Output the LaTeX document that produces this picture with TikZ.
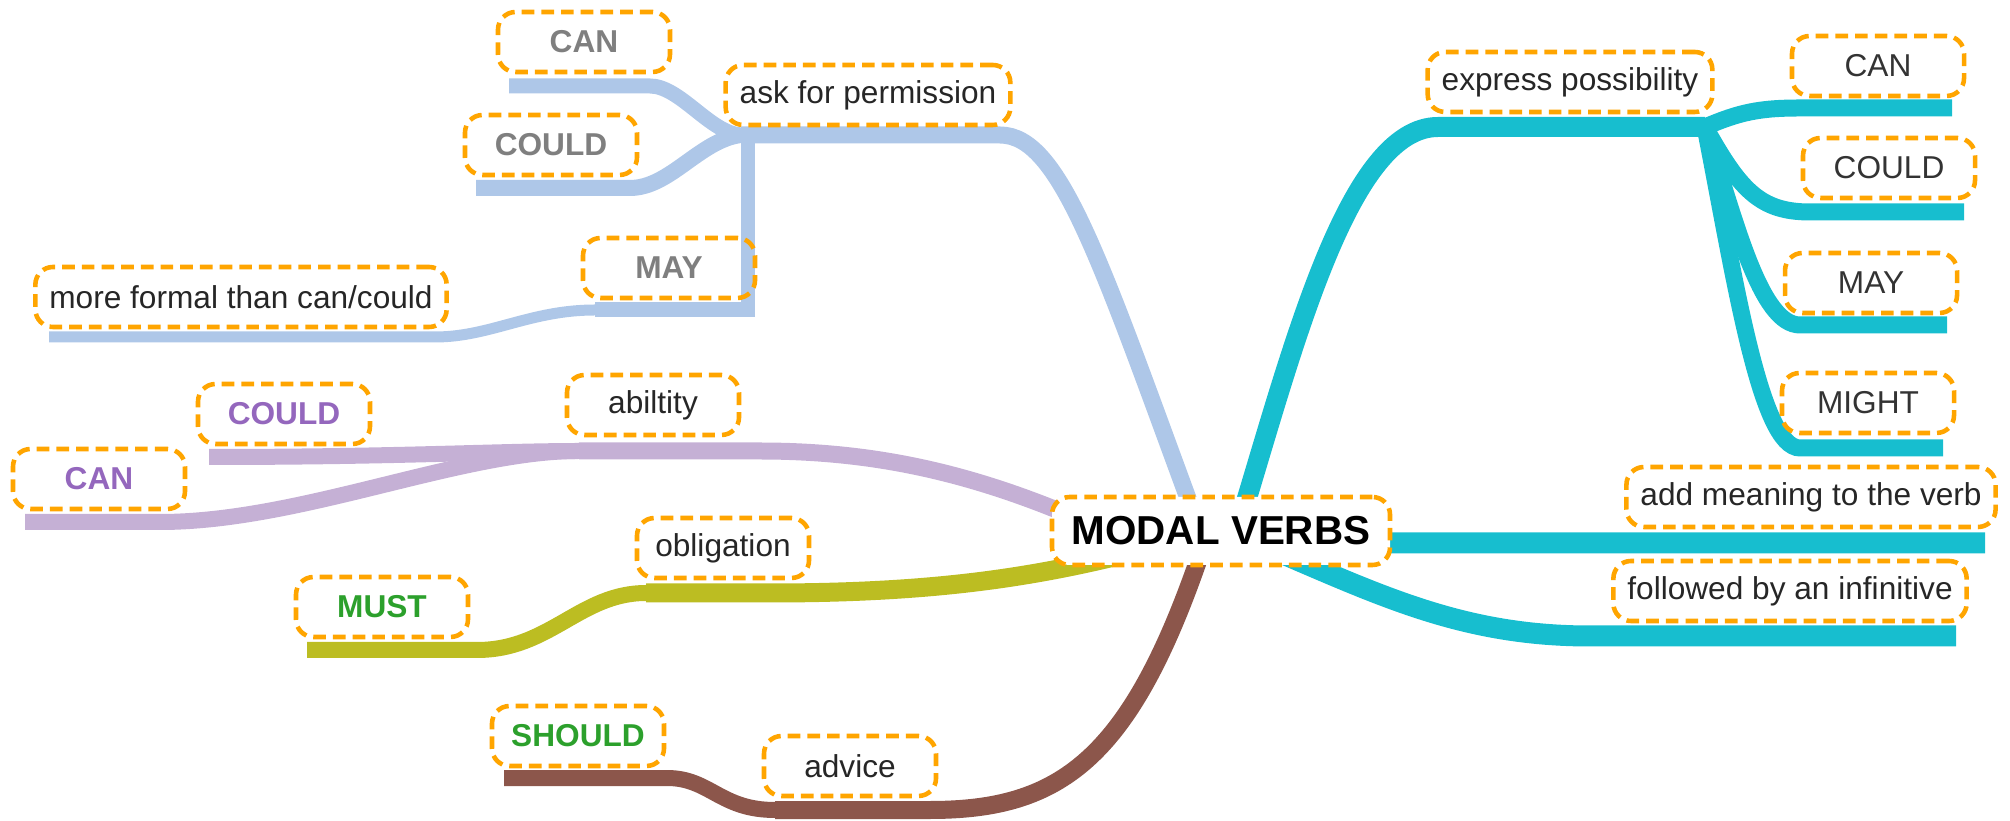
\documentclass[tikz,border=0pt]{standalone}
\usepackage{fontspec}
\setmainfont{Liberation Sans}
\usetikzlibrary{calc, backgrounds}
\definecolor{permcolor}{HTML}{AEC7E8}
\definecolor{abilcolor}{HTML}{C5B0D5}
\definecolor{oblicolor}{HTML}{BCBD22}
\definecolor{advcolor}{HTML}{8C564B}
\definecolor{posscolor}{HTML}{17BECF}
\definecolor{boxcolor}{HTML}{FFA500}
\definecolor{graytext}{HTML}{7F7F7F}
\definecolor{purpletext}{HTML}{9467BD}
\definecolor{greentext}{HTML}{2CA02C}
\definecolor{darktext}{HTML}{333333}
\tikzset{
    % Base styles
    basebox/.style={
        draw=boxcolor, line width=1.3pt, dash pattern=on 3.6pt off 2pt,
        rounded corners=5pt, align=center,
        font=\fontsize{9}{11}\selectfont, text=black!85,
        minimum width=1.72cm, minimum height=0.6cm, inner xsep=0.14cm
    },
    % Specific node types
    rootbox/.style={basebox, fill=white, text=black, minimum width=3.38cm,
        minimum height=0.68cm, font=\fontsize{11.5}{13}\selectfont\bfseries},
    topicbox/.style={basebox},
    graybox/.style={basebox, text=graytext, font=\fontsize{9}{11}\selectfont\bfseries},
    purplebox/.style={basebox, text=purpletext, font=\fontsize{9}{11}\selectfont\bfseries},
    greenbox/.style={basebox, text=greentext, font=\fontsize{9}{11}\selectfont\bfseries},
    plainbox/.style={basebox, text=darktext},
    % Branches
    limb/.style={line cap=butt, line width=#1},
    limb/.default=0.17cm,
    permlimb/.style={limb=#1, draw=permcolor},
    abillimb/.style={limb=#1, draw=abilcolor},
    oblilimb/.style={limb=#1, draw=oblicolor},
    advlimb/.style={limb=#1, draw=advcolor},
    posslimb/.style={limb=#1, draw=posscolor},
}

\begin{document}
\begin{tikzpicture}
\useasboundingbox (0,0) rectangle (20.1,-8.21);

% Central topic
\node (mv) [rootbox] at (12.21,-5.31) {MODAL VERBS};

% Permission
\node (perm) [topicbox] at (8.68,-0.95) {ask for permission};
\node (permcan) [graybox] at (5.84,-0.42) {CAN};
\node (permcould) [graybox] at (5.51,-1.45) {COULD};
\node (permmay) [graybox] at (6.69,-2.68) {MAY};
\node (formal) [topicbox] at (2.41,-2.97) {more formal than can/could};

% Ability
\node (abil) [topicbox] at (6.53,-4.05) {abiltity};
\node (abilcould) [purplebox] at (2.84,-4.14) {COULD};
\node (abilcan) [purplebox] at (0.99,-4.79) {CAN};

% Obligation
\node (obli) [topicbox] at (7.23,-5.48) {obligation};
\node (must) [greenbox] at (3.82,-6.07) {MUST};

% Advice
\node (adv) [topicbox] at (8.50,-7.66) {advice};
\node (should) [greenbox] at (5.78,-7.36) {SHOULD};

% Possibility
\node (poss) [topicbox] at (15.70,-0.82) {express possibility};
\node (posscan) [plainbox] at (18.78,-0.66) {CAN};
\node (posscould) [plainbox] at (18.89,-1.68) {COULD};
\node (possmay) [plainbox] at (18.71,-2.83) {MAY};
\node (possmight) [plainbox] at (18.68,-4.03) {MIGHT};

% Other facts
\node (meaning) [topicbox] at (18.11,-4.97) {add meaning to the verb};
\node (infin) [topicbox] at (17.90,-5.91) {followed by an infinitive};

% Junctions and branch ends
\coordinate (permj) at (7.41,-1.35);
\coordinate (mayj) at (7.48,-3.12);
\coordinate (formj) at (5.95,-3.10);
\coordinate (permcanend) at (5.09,-0.86);
\coordinate (permcouldend) at (4.76,-1.88);
\coordinate (formalend) at (0.49,-3.37);
\coordinate (abilj) at (5.79,-4.51);
\coordinate (abilcouldend) at (2.09,-4.57);
\coordinate (abilcanend) at (0.25,-5.22);
\coordinate (oblij) at (6.46,-5.93);
\coordinate (mustend) at (3.07,-6.50);
\coordinate (advj) at (7.75,-8.10);
\coordinate (shouldend) at (5.04,-7.78);
\coordinate (possj) at (17.05,-1.27);
\coordinate (posscanend) at (19.52,-1.08);
\coordinate (posscouldend) at (19.64,-2.12);
\coordinate (possmayend) at (19.47,-3.25);
\coordinate (possmightend) at (19.43,-4.48);
\coordinate (meaningend) at (19.85,-5.43);
\coordinate (infinend) at (19.56,-6.36);

\begin{scope}[on background layer]
% Permission branch
\draw[permlimb=0.17cm] ([xshift=-0.27cm,yshift=-0.2cm]mv.north) .. controls (11.0,-2.6) and (10.6,-1.35) .. (10.0,-1.35) -- (permj);
\draw[permlimb=0.15cm] (permj) .. controls (7.1,-1.33) and (6.8,-0.86) .. (6.5,-0.86) -- (permcanend);
\draw[permlimb=0.16cm] (permj) .. controls (7.0,-1.4) and (6.7,-1.88) .. (6.3,-1.88) -- (permcouldend);
\draw[permlimb=0.14cm] (permj -| mayj) ++(0,0.05) -- (mayj);
\draw[permlimb=0.15cm] (7.55,-3.10) -- (formj);
\draw[permlimb=0.11cm] (formj) .. controls (5.3,-3.10) and (4.9,-3.37) .. (4.35,-3.37) -- (formalend);

% Ability branch
\draw[abillimb=0.17cm] ([xshift=0.45cm,yshift=0.05cm]mv.west) .. controls (9.8,-4.75) and (8.8,-4.51) .. (7.6,-4.51) -- (abilj);
\draw[abillimb=0.16cm] (abilj) .. controls (5.0,-4.51) and (4.0,-4.57) .. (abilcouldend);
\draw[abillimb=0.16cm] (abilj) .. controls (4.6,-4.51) and (3.0,-5.22) .. (1.6,-5.22) -- (abilcanend);

% Obligation branch
\draw[oblilimb=0.19cm] ([xshift=-1.0cm,yshift=0.12cm]mv.south) .. controls (10.2,-5.8) and (9.2,-5.93) .. (7.7,-5.93) -- (oblij);
\draw[oblilimb=0.16cm] (oblij) .. controls (5.8,-5.93) and (5.5,-6.50) .. (4.77,-6.50) -- (mustend);

% Advice branch
\draw[advlimb=0.18cm] ([xshift=-0.2cm,yshift=0.15cm]mv.south) .. controls (11.3,-7.6) and (10.6,-8.1) .. (9.3,-8.1) -- (advj);
\draw[advlimb=0.16cm] (advj) .. controls (7.2,-8.1) and (7.1,-7.78) .. (6.67,-7.78) -- (shouldend);

% Possibility branch
\draw[posslimb=0.2cm] ([xshift=0.21cm,yshift=-0.2cm]mv.north) .. controls (12.95,-3.4) and (13.5,-1.27) .. (14.38,-1.27) -- (possj);
\draw[posslimb=0.17cm] (possj) .. controls (17.4,-1.12) and (17.6,-1.08) .. (18.0,-1.08) -- (posscanend);
\draw[posslimb=0.17cm] (possj) .. controls (17.4,-1.9) and (17.6,-2.12) .. (18.1,-2.12) -- (posscouldend);
\draw[posslimb=0.17cm] (possj) .. controls (17.35,-2.2) and (17.6,-3.25) .. (18.0,-3.25) -- (possmayend);
\draw[posslimb=0.17cm] (possj) .. controls (17.35,-2.8) and (17.6,-4.48) .. (18.0,-4.48) -- (possmightend);

% Facts
\draw[posslimb=0.21cm] ([xshift=-0.3cm,yshift=-0.12cm]mv.east) -- (meaningend);
\draw[posslimb=0.21cm] ([xshift=0.65cm,yshift=0.12cm]mv.south) .. controls (13.9,-6.0) and (14.7,-6.36) .. (15.9,-6.36) -- (infinend);
\end{scope}

\end{tikzpicture}
\end{document}
